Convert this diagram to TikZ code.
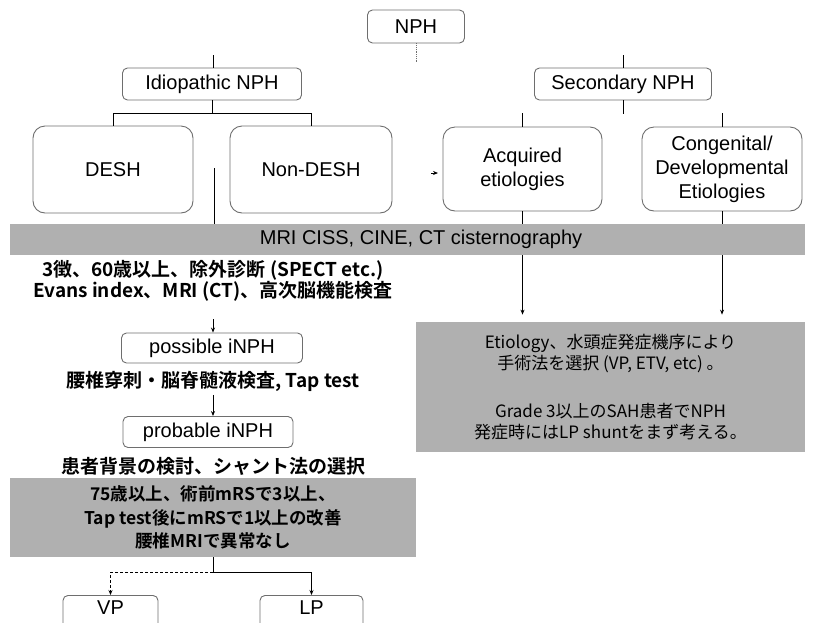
\documentclass[tikz,border=0pt]{standalone}
\usepackage{fontspec}
\setmainfont{Liberation Sans}
\newfontfamily\jp{Noto Sans CJK JP}[BoldFont={Noto Sans CJK JP Bold}]
\usetikzlibrary{positioning, arrows.meta}
\definecolor{barfill}{RGB}{176,176,176}
\definecolor{edgegray}{RGB}{110,110,110}

\begin{document}
\begin{tikzpicture}[x=1pt, y=-1pt, >={Stealth[length=5pt, width=4pt]}, line width=0.8pt,
  box/.style={draw=edgegray, line width=0.9pt, rounded corners=5pt, align=center, inner sep=0pt, font=\fontsize{20}{24}\selectfont},
  bigbox/.style={box, rounded corners=12pt},
  graybox/.style={fill=barfill, inner sep=0pt, align=center},
  note/.style={align=center, font=\jp\bfseries\fontsize{19}{21}\selectfont}]
  \useasboundingbox (0,0) rectangle (813,622);
  \clip (0,0) rectangle (813,622);

  \node[box, minimum width=97, minimum height=33] (nph) at (416,26.5) {NPH};
  \node[box, minimum width=179, minimum height=32] (idio) at (212,84) {Idiopathic NPH};
  \node[box, minimum width=177, minimum height=32] (sec) at (623,84) {Secondary NPH};
  \node[bigbox, minimum width=160, minimum height=87] (desh) at (113,169.5) {DESH};
  \node[bigbox, minimum width=162, minimum height=87] (ndesh) at (311,169.5) {Non-DESH};
  \node[bigbox, minimum width=159, minimum height=84] (acq) at (522.5,169) {Acquired\\etiologies};
  \node[bigbox, minimum width=160, minimum height=84] (cong) at (722,169) {Congenital/\\Developmental\\Etiologies};
  \node[graybox, minimum width=795, minimum height=31, font=\fontsize{20}{24}\selectfont] (bar) at (407.5,239.5) {\hspace*{27pt}MRI CISS, CINE, CT cisternography};

  \node[note] (checks) at (213,281) {3徴、60歳以上、除外診断 (SPECT etc.)\\Evans index、MRI (CT)、高次脳機能検査};
  \node[box, minimum width=181, minimum height=30] (possible) at (212,348) {possible iNPH};
  \node[note] (taptest) at (213,381) {腰椎穿刺・脳脊髄液検査, Tap test};
  \node[box, minimum width=170, minimum height=31] (probable) at (208,432) {probable iNPH};
  \node[note] (choice) at (213,466) {患者背景の検討、シャント法の選択};
  \node[graybox, minimum width=406, minimum height=79, font=\jp\bfseries\fontsize{17.5}{23.5}\selectfont] (criteria) at (213,517.5) {75歳以上、術前mRSで3以上、\\Tap test後にmRSで1以上の改善\\腰椎MRIで異常なし};
  \node[graybox, minimum width=389, minimum height=130, font=\jp\fontsize{17}{21}\selectfont] (surgery) at (610.5,387) {Etiology、水頭症発症機序により\\手術法を選択 (VP, ETV, etc) 。\\[27pt]Grade 3以上のSAH患者でNPH\\発症時にはLP shuntをまず考える。};
  \node[box, anchor=north, minimum width=95, text height=15pt, text depth=40pt, inner ysep=4pt] (vp) at (110.5,595) {VP};
  \node[box, anchor=north, minimum width=103, text height=15pt, text depth=40pt, inner ysep=4pt] (lp) at (311.5,595) {LP};

  \coordinate (nphtail) at (416,62);
  \coordinate (idtop) at (213,55);
  \coordinate (sectop) at (623,55);
  \coordinate (ndtop) at (214,168);
  \coordinate (acqin) at (431,173);
  \coordinate (acqtip) at (438,173);

  \draw[densely dotted, edgegray] (nph.south) -- (nphtail);
  \draw (idtop) -- (idtop |- idio.north);
  \draw (sectop) -- (sectop |- sec.north);
  \draw (idio.south) -- ++(0,13) coordinate (idsplit);
  \draw (desh.north) |- (idsplit) -| (ndesh.north);
  \draw (sec.south) -- ++(0,14) coordinate (sectail);
  \draw (acq.north) -- ++(0,-14) coordinate (acqtop);
  \draw (cong.north) -- ++(0,-14) coordinate (congtop);
  \draw[->] (acqin) -- (acqtip);

  \draw (ndtop) -- (ndtop |- bar.north);
  \draw (acq.south) -- (acq.south |- bar.north);
  \draw (cong.south) -- (cong.south |- bar.north);
  \draw[->, shorten >=7pt] (acq.south |- bar.south) -- (acq.south |- surgery.north);
  \draw[->, shorten >=7pt] (cong.south |- bar.south) -- (cong.south |- surgery.north);

  \draw[->, shorten <=14pt] (checks.south) -- (checks.south |- possible.north);
  \draw[->] (taptest.south) -- (taptest.south |- probable.north);
  \draw (criteria.south) -- ++(0,15) coordinate (shunt);
  \draw[->, densely dashed] (shunt) -| (vp.north);
  \draw[->] (shunt) -| (lp.north);
\end{tikzpicture}
\end{document}
